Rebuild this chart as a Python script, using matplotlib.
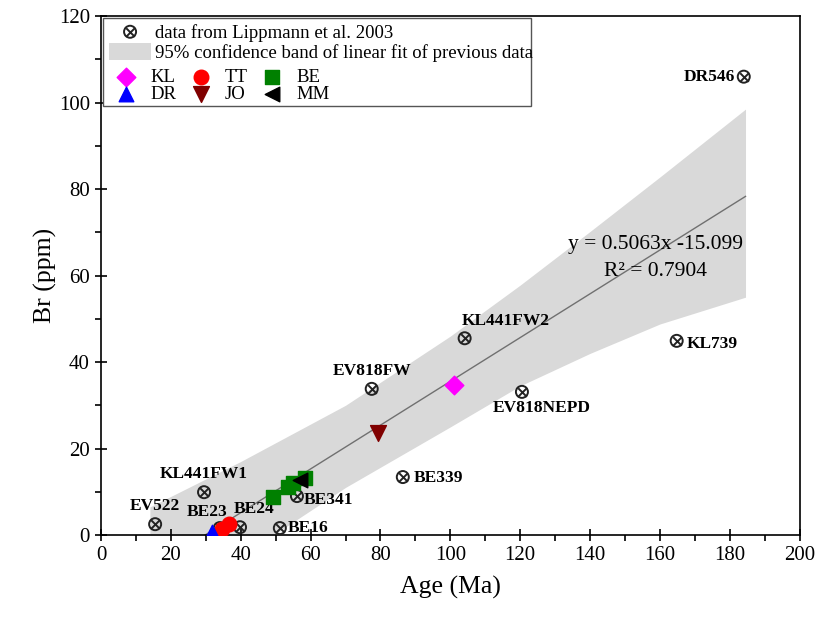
import matplotlib.pyplot as plt
from matplotlib.patches import Rectangle, Patch
from matplotlib.ticker import MultipleLocator
import numpy as np

plt.rcParams['font.family'] = ['Liberation Serif', 'DejaVu Serif']

# Lippmann et al. 2003 samples
lip_names = ['EV522', 'KL441FW1', 'BE23', 'BE24', 'BE16', 'BE341', 'EV818FW',
             'BE339', 'KL441FW2', 'EV818NEPD', 'KL739', 'DR546']
lip_age = [15.5, 29.5, 34.0, 39.8, 51.2, 56.1, 77.5, 86.4, 104.1, 120.5, 164.8, 184.0]
lip_br = [2.5, 9.9, 1.6, 1.8, 1.6, 9.0, 33.8, 13.4, 45.5, 33.1, 44.9, 106.0]

# new samples per location
kl_age, kl_br = [101.0], [34.8]
tt_age, tt_br = [34.5, 36.6], [1.3, 2.5]
be_age, be_br = [49.2, 53.5, 55.0, 58.4], [8.8, 11.1, 12.0, 13.2]
dr_age, dr_br = [31.8], [0.8]
jo_age, jo_br = [79.3], [23.6]
mm_age, mm_br = [57.0], [12.7]

# linear fit of previous data and its 95% band
slope, intercept = 0.5063, -15.099
fit_x = [14, 184.5]
band_x = [14, 40, 70, 100, 120, 140, 160, 184.5]
band_hi = [6.5, 17, 30, 46, 57.8, 70.2, 82.8, 98.5]
band_lo = [-22, -5, 11, 25, 34.5, 42, 48.8, 55]

fig = plt.figure(figsize=(8.21, 6.21), dpi=100)
ax = fig.add_axes([0.123, 0.1385, 0.851, 0.8355])

ax.fill_between(band_x, band_lo, band_hi, color='#d9d9d9', lw=0, zorder=1)
fx = np.array(fit_x)
ax.plot(fx, slope * fx + intercept, color='#707070', lw=1.0, zorder=2)

h1 = ax.scatter(lip_age, lip_br, s=75, facecolors='none', edgecolors='#222222',
                linewidths=1.4, marker='o', zorder=3)
h2 = ax.scatter(lip_age, lip_br, s=38, c='#222222', linewidths=1.4, marker='x', zorder=3)

# sample labels: (dx, dy) offsets in points and alignment
offs = {
    'EV522': (0, 7, 'center', 'bottom'),
    'KL441FW1': (0, 7, 'center', 'bottom'),
    'BE23': (-9, 6, 'center', 'bottom'),
    'BE24': (10, 7, 'center', 'bottom'),
    'BE16': (6, 0, 'left', 'center'),
    'BE341': (5, -3, 'left', 'center'),
    'EV818FW': (0, 7, 'center', 'bottom'),
    'BE339': (8, -1, 'left', 'center'),
    'KL441FW2': (-2, 7, 'left', 'bottom'),
    'EV818NEPD': (14, -6, 'center', 'top'),
    'KL739': (7, -2, 'left', 'center'),
    'DR546': (-6, 0, 'right', 'center'),
}
for n, xa, yb in zip(lip_names, lip_age, lip_br):
    dx, dy, ha, va = offs[n]
    ax.annotate(n, (xa, yb), xytext=(dx, dy), textcoords='offset points',
                ha=ha, va=va, fontsize=12.5, fontweight='bold', zorder=4)

k = ax.scatter(kl_age, kl_br, marker='D', s=90, c='#ff00ff', zorder=5)
t = ax.scatter(tt_age, tt_br, marker='o', s=110, c='#ff0000', zorder=5)
b = ax.scatter(be_age, be_br, marker='s', s=90, c='#008000', zorder=5)
d = ax.scatter(dr_age, dr_br, marker='^', s=110, c='#0000ff', zorder=5)
j = ax.scatter(jo_age, jo_br, marker='v', s=130, c='#800000', zorder=5)
m = ax.scatter(mm_age, mm_br, marker='<', s=110, c='black', zorder=6)

ax.text(158.8, 67.3, 'y = 0.5063x -15.099', fontsize=15.5, ha='center', va='center')
ax.text(158.8, 61.0, 'R\u00b2 = 0.7904', fontsize=15.5, ha='center', va='center')

ax.set_xlim(0, 200)
ax.set_ylim(0, 120)
ax.xaxis.set_major_locator(MultipleLocator(20))
ax.xaxis.set_minor_locator(MultipleLocator(10))
ax.yaxis.set_major_locator(MultipleLocator(20))
ax.yaxis.set_minor_locator(MultipleLocator(10))
ax.tick_params(which='major', direction='inout', length=9, width=1.2, labelsize=15)
ax.tick_params(which='minor', direction='out', length=4, width=1.2)
for s in ax.spines.values():
    s.set_linewidth(1.2)
ax.set_xlabel('Age (Ma)', fontsize=18.5, labelpad=8)
ax.set_ylabel('Br (ppm)', fontsize=18.5, labelpad=1)

# legend frame + two frameless legends inside
ax.add_patch(Rectangle((0.003, 0.827), 0.612, 0.169, transform=ax.transAxes,
                       fill=True, facecolor='white', edgecolor='#555555', lw=1, zorder=7))
band_patch = Patch(facecolor='#d9d9d9', edgecolor='none')
leg1 = ax.legend([(h1, h2), band_patch],
                 ['data from Lippmann et al. 2003',
                  '95% confidence band of linear fit of previous data'],
                 loc='upper left', bbox_to_anchor=(-0.004, 1.008), frameon=False,
                 fontsize=13.5, handlelength=2.2, handleheight=1.0, handletextpad=0.25,
                 labelspacing=0.05, borderaxespad=0.2)
leg1.set_zorder(8)
ax.add_artist(leg1)
leg2 = ax.legend([k, d, t, j, b, m], ['KL', 'DR', 'TT', 'JO', 'BE', 'MM'],
                 ncol=3, loc='upper left', bbox_to_anchor=(-0.002, 0.92),
                 frameon=False, fontsize=13.5, handlelength=1.6, handletextpad=0.5,
                 columnspacing=0.5, labelspacing=0.0, borderaxespad=0.2)
leg2.set_zorder(8)

fig.savefig('out.png', dpi=100)
